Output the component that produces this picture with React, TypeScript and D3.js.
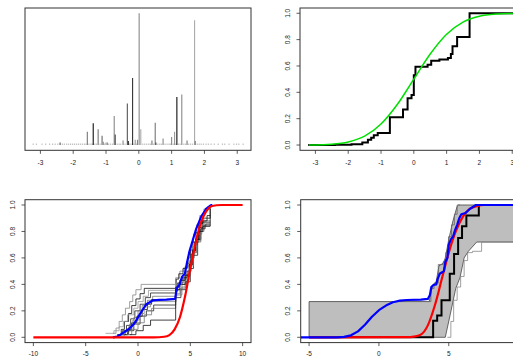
import * as d3 from 'd3';

// ---- panel 1: point masses (x, height relative to the largest mass) ----
var spikeX = [-2.40, -1.57, -1.39, -1.24, -1.12, -1.08, -1.00, -0.96, -0.75, -0.72, -0.48, -0.35, -0.32, -0.19, -0.11, -0.04, 0.01, 0.06, 0.40, 0.50, 0.52, 0.74, 1.00, 1.09, 1.16, 1.31, 1.47, 1.70, 1.72];
var spikeH = [0.02, 0.10, 0.165, 0.12, 0.07, 0.025, 0.02, 0.02, 0.22, 0.08, 0.035, 0.316, 0.03, 0.508, 0.04, 0.04, 1.0, 0.12, 0.035, 0.17, 0.02, 0.05, 0.06, 0.10, 0.364, 0.384, 0.035, 0.947, 0.03];
var tinyX = [-3.22, -3.12, -2.95, -2.84, -2.72, -2.63, -2.55, -2.47, -2.33, -2.27, -2.2, -2.14, -2.08, -2.02, -1.96, -1.9, -1.84, -1.78, -1.72, -1.66, -1.61, -1.52, -1.46, -1.42, -1.34, -1.29, -1.18, -1.05, -0.92, -0.86, -0.8, -0.66, -0.6, -0.55, -0.42, -0.28, -0.24, -0.15, -0.07, 0.12, 0.18, 0.24, 0.3, 0.35, 0.45, 0.58, 0.64, 0.69, 0.8, 0.86, 0.92, 0.96, 1.05, 1.13, 1.21, 1.26, 1.37, 1.42, 1.52, 1.58, 1.64, 1.78, 1.84, 1.9, 1.97, 2.05, 2.12, 2.2, 2.3, 2.42, 2.55, 2.62, 2.75, 2.9, 2.98, 3.05, 3.18];
var tinyH = 0.012;

// ---- panel 2: empirical cdf and normal cdf ----
var ecdfX = [-3.22, -2.4, -1.9, -1.57, -1.40, -1.30, -1.22, -1.10, -0.73, -0.33, -0.19, -0.07, 0.0, 0.05, 0.42, 0.53, 0.78, 1.04, 1.13, 1.18, 1.32, 1.70, 3.2];
var ecdfY = [0.0, 0.003, 0.006, 0.02, 0.04, 0.055, 0.075, 0.092, 0.21, 0.27, 0.355, 0.38, 0.53, 0.595, 0.61, 0.64, 0.65, 0.66, 0.69, 0.75, 0.82, 1.0, 1.0];
var normX = [-3.2, -3, -2.5, -2, -1.5, -1, -0.5, 0, 0.5, 1, 1.5, 2, 2.5, 3, 3.2, 3.5];
var normY = [0.001, 0.001, 0.006, 0.023, 0.067, 0.159, 0.309, 0.5, 0.691, 0.841, 0.933, 0.977, 0.994, 0.999, 0.999, 1.0];

// ---- panel 3: sampled step functions, blue mean, red reference ----
var drawsX = [
  [-2.4, -2.1, -1.8, -1.5, -1.2, -0.8, -0.5, -0.2, 0.3, 3.6, 4.0, 4.4, 4.8, 5.0, 5.3, 5.6, 5.9, 6.3],
  [-2.0, -1.6, -1.3, -0.9, -0.6, -0.2, 0.2, 0.6, 3.65, 3.9, 4.3, 4.7, 5.0, 5.2, 5.5, 5.8, 6.2, 6.9],
  [-3.1, -2.3, -1.8, -1.4, -1.0, -0.4, 0.0, 0.5, 1.0, 3.6, 4.1, 4.6, 4.9, 5.2, 5.5, 5.9, 6.3],
  [-1.9, -1.5, -1.1, -0.7, -0.3, 0.2, 0.7, 1.2, 3.6, 4.0, 4.5, 4.9, 5.1, 5.4, 5.8, 6.1],
  [-1.6, -1.2, -0.8, -0.4, 0.0, 0.4, 0.9, 1.4, 3.7, 4.2, 4.6, 5.0, 5.3, 5.6, 6.0, 6.4],
  [-1.4, -1.0, -0.6, -0.1, 0.4, 0.9, 1.3, 3.6, 3.8, 4.3, 4.7, 5.0, 5.2, 5.5, 5.9, 6.2, 6.6],
  [-1.8, -1.3, -0.9, -0.5, 0.1, 0.6, 1.2, 3.65, 4.0, 4.5, 4.8, 5.1, 5.4, 5.7, 6.1, 6.5],
  [-1.3, -0.9, -0.4, 0.2, 0.8, 1.5, 3.6, 4.1, 4.6, 5.0, 5.3, 5.7, 6.0, 6.4],
  [-1.1, -0.6, 0.0, 0.6, 1.3, 3.6, 4.2, 4.7, 5.0, 5.3, 5.6, 6.0, 6.3],
  [-0.8, -0.2, 0.5, 1.2, 3.6, 4.0, 4.5, 4.9, 5.2, 5.5, 5.8, 6.2, 6.9]
];
var drawsY = [
  [0.03, 0.07, 0.12, 0.17, 0.22, 0.27, 0.32, 0.36, 0.40, 0.45, 0.5, 0.53, 0.6, 0.68, 0.78, 0.85, 0.92, 0.97],
  [0.02, 0.06, 0.12, 0.18, 0.24, 0.29, 0.33, 0.37, 0.44, 0.48, 0.52, 0.56, 0.66, 0.72, 0.79, 0.86, 0.9, 1.0],
  [0.03, 0.05, 0.08, 0.12, 0.17, 0.22, 0.27, 0.31, 0.355, 0.41, 0.44, 0.5, 0.58, 0.7, 0.77, 0.83, 0.9],
  [0.02, 0.05, 0.09, 0.14, 0.2, 0.25, 0.3, 0.335, 0.38, 0.43, 0.47, 0.55, 0.63, 0.72, 0.8, 0.87],
  [0.02, 0.05, 0.1, 0.15, 0.2, 0.24, 0.28, 0.31, 0.36, 0.4, 0.46, 0.55, 0.64, 0.72, 0.82, 0.88],
  [0.02, 0.06, 0.11, 0.16, 0.21, 0.25, 0.285, 0.35, 0.41, 0.45, 0.5, 0.58, 0.65, 0.74, 0.83, 0.88, 0.92],
  [0.01, 0.04, 0.08, 0.13, 0.18, 0.23, 0.27, 0.33, 0.37, 0.42, 0.5, 0.6, 0.7, 0.78, 0.84, 0.86],
  [0.02, 0.05, 0.1, 0.16, 0.2, 0.244, 0.3, 0.36, 0.42, 0.52, 0.62, 0.74, 0.82, 0.85],
  [0.02, 0.06, 0.11, 0.17, 0.219, 0.32, 0.38, 0.44, 0.54, 0.64, 0.73, 0.8, 0.84],
  [0.02, 0.05, 0.09, 0.13, 0.36, 0.4, 0.47, 0.55, 0.66, 0.74, 0.8, 0.84, 0.97]
];
var drawsEnd = 6.9;
var meanX3 = [-2.4, -2.0, -1.74, -1.3, -0.8, -0.4, -0.15, 0.3, 0.8, 1.4, 2.0, 2.7, 3.55, 3.7, 3.97, 4.23, 4.48, 4.67, 4.92, 5.24, 5.56, 6.03, 6.5, 6.98, 7.1];
var meanY3 = [0.0, 0.005, 0.017, 0.04, 0.068, 0.1, 0.13, 0.19, 0.25, 0.278, 0.283, 0.285, 0.29, 0.37, 0.40, 0.46, 0.48, 0.56, 0.65, 0.735, 0.82, 0.91, 0.97, 1.0, 1.0];
var refX3 = [-10, 1.5, 2.5, 3.0, 3.5, 4.0, 4.5, 5.0, 5.5, 6.0, 6.5, 7.0, 7.5, 8, 10];
var refY3 = [0, 0, 0.004, 0.017, 0.06, 0.15, 0.31, 0.52, 0.71, 0.865, 0.95, 0.99, 0.998, 1, 1];

// ---- panel 4: band, observed step, blue mean, red reference ----
var bandUpX = [-5, -5, 3.6, 3.75, 3.9, 4.1, 4.3, 4.6, 4.75, 5.0, 5.3, 5.6, 5.7, 10];
var bandUpY = [0, 0.27, 0.27, 0.35, 0.40, 0.42, 0.54, 0.56, 0.6, 0.74, 0.88, 0.99, 1.0, 1.0];
var bandLoX = [10, 7.0, 6.4, 6.1, 5.8, 5.5, 5.1, 4.75];
var bandLoY = [0.72, 0.72, 0.65, 0.6, 0.45, 0.37, 0.17, 0];
var upStepX = [3.55, 3.72, 3.95, 4.25, 4.6, 4.78, 4.98, 5.2, 5.4, 5.6, 5.8];
var upStepY = [0.27, 0.37, 0.41, 0.55, 0.57, 0.64, 0.76, 0.85, 0.93, 1.0, 1.0];
var loStepX = [4.9, 5.15, 5.35, 5.6, 5.85, 6.1, 6.35, 6.7, 7.35, 10];
var loStepY = [0.0, 0.12, 0.28, 0.38, 0.46, 0.58, 0.64, 0.65, 0.72, 0.72];
var obsX = [-5, 3.88, 4.17, 4.48, 5.07, 5.38, 5.67, 5.95, 6.26, 7.15, 10];
var obsY = [0, 0.125, 0.165, 0.28, 0.48, 0.63, 0.75, 0.84, 0.92, 1.0, 1.0];
var meanX4 = [-5.6, -3, -2.5, -2, -1.5, -1, -0.5, 0, 0.5, 1, 1.5, 2, 3, 3.5, 3.65, 3.75, 3.9, 4.1, 4.2, 4.35, 4.5, 4.65, 4.75, 4.9, 5.0, 5.15, 5.3, 5.45, 5.6, 5.75, 5.9, 6.2, 6.5, 6.95, 10.6];
var meanY4 = [0, 0, 0.003, 0.015, 0.045, 0.095, 0.155, 0.205, 0.24, 0.265, 0.277, 0.282, 0.285, 0.29, 0.32, 0.38, 0.395, 0.40, 0.44, 0.48, 0.49, 0.50, 0.57, 0.60, 0.70, 0.74, 0.76, 0.81, 0.85, 0.90, 0.93, 0.94, 0.97, 1.0, 1.0];
var refX4 = [-5, 2, 2.5, 3.0, 3.5, 4.0, 4.5, 5.0, 5.5, 6.0, 6.5, 7.0, 7.5, 10];
var refY4 = [0, 0.001, 0.005, 0.02, 0.09, 0.24, 0.44, 0.64, 0.80, 0.91, 0.97, 0.99, 1.0, 1.0];

// tick labels
var ticksTop = [-3, -2, -1, 0, 1, 2, 3];
var ticksBL = [-10, -5, 0, 5, 10];
var ticksBR = [-5, 0, 5, 10];
var ticksY = [0, 0.2, 0.4, 0.6, 0.8, 1.0];

var FONT = '"Liberation Sans", Arial, Helvetica, sans-serif';
var BOX = '#333';
var shade = ['#555', '#777', '#111', '#777', '#666', '#999', '#999', '#888', '#888', '#444', '#888', '#555', '#222', '#333', '#999', '#888', '#888', '#aaa', '#777', '#777', '#444', '#888', '#888', '#999', '#111', '#888', '#777', '#aaa', '#777'];
var drawShade = ['#888', '#111', '#999', '#222', '#777', '#111', '#888', '#222', '#777', '#111'];

function zip(xs, ys) {
  return xs.map(function (x, i) { return [x, ys[i]]; });
}

function Frame({ x, y, id }) {
  var r = x.range(), d = y.range();
  return (
    <g>
      <defs>
        <clipPath id={id}>
          <rect x={r[0]} y={d[1]} width={r[1] - r[0]} height={d[0] - d[1]} />
        </clipPath>
      </defs>
      <rect x={r[0]} y={d[1]} width={r[1] - r[0]} height={d[0] - d[1]} fill="none" stroke={BOX} strokeWidth={1} />
    </g>
  );
}

function XAxis({ x, y, ticks, gap }) {
  var yb = y.range()[0];
  return (
    <g fontFamily={FONT} fontSize={6.5} fill="#222">
      {ticks.map(function (t) {
        return (
          <g key={t}>
            <line x1={x(t)} x2={x(t)} y1={yb} y2={yb + 3.5} stroke={BOX} strokeWidth={0.8} />
            <text x={x(t)} y={yb + gap} textAnchor="middle">{String(t)}</text>
          </g>
        );
      })}
    </g>
  );
}

function YAxis({ x, y, ticks }) {
  var xb = x.range()[0];
  var fmt = d3.format('.1f');
  return (
    <g fontFamily={FONT} fontSize={6.5} fill="#222">
      {ticks.map(function (t) {
        var ty = y(t);
        var lx = xb - 10.2;
        return (
          <g key={t}>
            <line x1={xb - 3.5} x2={xb} y1={ty} y2={ty} stroke={BOX} strokeWidth={0.8} />
            <text x={lx} y={ty} textAnchor="middle" transform={'rotate(-90,' + lx + ',' + ty + ')'}>{fmt(t)}</text>
          </g>
        );
      })}
    </g>
  );
}

export default function App() {
  var yTop = d3.scaleLinear().domain([-0.04, 1.04]).range([150.3, 8]);
  var yBot = d3.scaleLinear().domain([-0.04, 1.04]).range([342.6, 199.7]);
  var x1 = d3.scaleLinear().domain([-3.47, 3.42]).range([25, 251]);
  var x2 = d3.scaleLinear().domain([-3.47, 3.42]).range([300, 526]);
  var x3 = d3.scaleLinear().domain([-10.8, 10.8]).range([25, 251]);
  var x4 = d3.scaleLinear().domain([-5.6, 10.6]).range([300.7, 527]);

  function lineOf(xs, ys, curve) {
    return d3.line().x(function (d) { return xs(d[0]); }).y(function (d) { return ys(d[1]); }).curve(curve || d3.curveLinear);
  }

  var step2 = lineOf(x2, yTop, d3.curveStepAfter);
  var smooth2 = lineOf(x2, yTop, d3.curveMonotoneX);
  var step3 = lineOf(x3, yBot, d3.curveStepAfter);
  var lin3 = lineOf(x3, yBot);
  var smooth3 = lineOf(x3, yBot, d3.curveMonotoneX);
  var step4 = lineOf(x4, yBot, d3.curveStepAfter);
  var lin4 = lineOf(x4, yBot);
  var smooth4 = lineOf(x4, yBot, d3.curveMonotoneX);

  var bandPts = zip(bandUpX, bandUpY).concat(zip(bandLoX, bandLoY));

  return (
    <svg width={513} height={356} style={{ position: 'absolute', left: 0, top: 0, background: '#fff' }}>
      <rect width={513} height={356} fill="#fff" />

      {/* panel 1 */}
      <Frame x={x1} y={yTop} id="c1" />
      <g clipPath="url(#c1)">
        {tinyX.map(function (t, i) {
          return <line key={'t' + i} x1={x1(t)} x2={x1(t)} y1={yTop(0)} y2={yTop(tinyH)} stroke="#c4c4c4" strokeWidth={1.2} />;
        })}
        {spikeX.map(function (t, i) {
          return <line key={'s' + i} x1={x1(t)} x2={x1(t)} y1={yTop(0)} y2={yTop(spikeH[i])} stroke={shade[i]} strokeWidth={1.1} />;
        })}
      </g>
      <XAxis x={x1} y={yTop} ticks={ticksTop} gap={14.6} />

      {/* panel 2 */}
      <Frame x={x2} y={yTop} id="c2" />
      <g clipPath="url(#c2)" fill="none">
        <path d={step2(zip(ecdfX, ecdfY))} stroke="#000" strokeWidth={2} />
        <path d={smooth2(zip(normX, normY))} stroke="#00e000" strokeWidth={1.5} />
      </g>
      <XAxis x={x2} y={yTop} ticks={ticksTop} gap={14.6} />
      <YAxis x={x2} y={yTop} ticks={ticksY} />

      {/* panel 3 */}
      <Frame x={x3} y={yBot} id="c3" />
      <g clipPath="url(#c3)" fill="none">
        {drawsX.map(function (xs, k) {
          var pts = zip(xs, drawsY[k]);
          pts.push([drawsEnd, drawsY[k][drawsY[k].length - 1]]);
          return <path key={'d' + k} d={step3(pts)} stroke={drawShade[k]} strokeWidth={0.8} />;
        })}
        <path d={lin3(zip(meanX3, meanY3))} stroke="#0000ff" strokeWidth={2.2} strokeLinejoin="round" />
        <path d={smooth3(zip(refX3, refY3))} stroke="#ff0000" strokeWidth={2.2} />
      </g>
      <XAxis x={x3} y={yBot} ticks={ticksBL} gap={13} />
      <YAxis x={x3} y={yBot} ticks={ticksY} />

      {/* panel 4 */}
      <Frame x={x4} y={yBot} id="c4" />
      <g clipPath="url(#c4)" fill="none">
        <path d={lin4(bandPts) + 'Z'} fill="#bebebe" stroke="#444" strokeWidth={0.8} />
        <path d={step4(zip(upStepX, upStepY))} stroke="#666" strokeWidth={0.8} />
        <path d={step4(zip(loStepX, loStepY))} stroke="#888" strokeWidth={0.8} />
        <path d={step4(zip(obsX, obsY))} stroke="#000" strokeWidth={2} />
        <path d={smooth4(zip(refX4, refY4))} stroke="#ff0000" strokeWidth={2.2} />
        <path d={lin4(zip(meanX4, meanY4))} stroke="#0000ff" strokeWidth={2.2} strokeLinejoin="round" />
      </g>
      <XAxis x={x4} y={yBot} ticks={ticksBR} gap={13} />
      <YAxis x={x4} y={yBot} ticks={ticksY} />
    </svg>
  );
}
